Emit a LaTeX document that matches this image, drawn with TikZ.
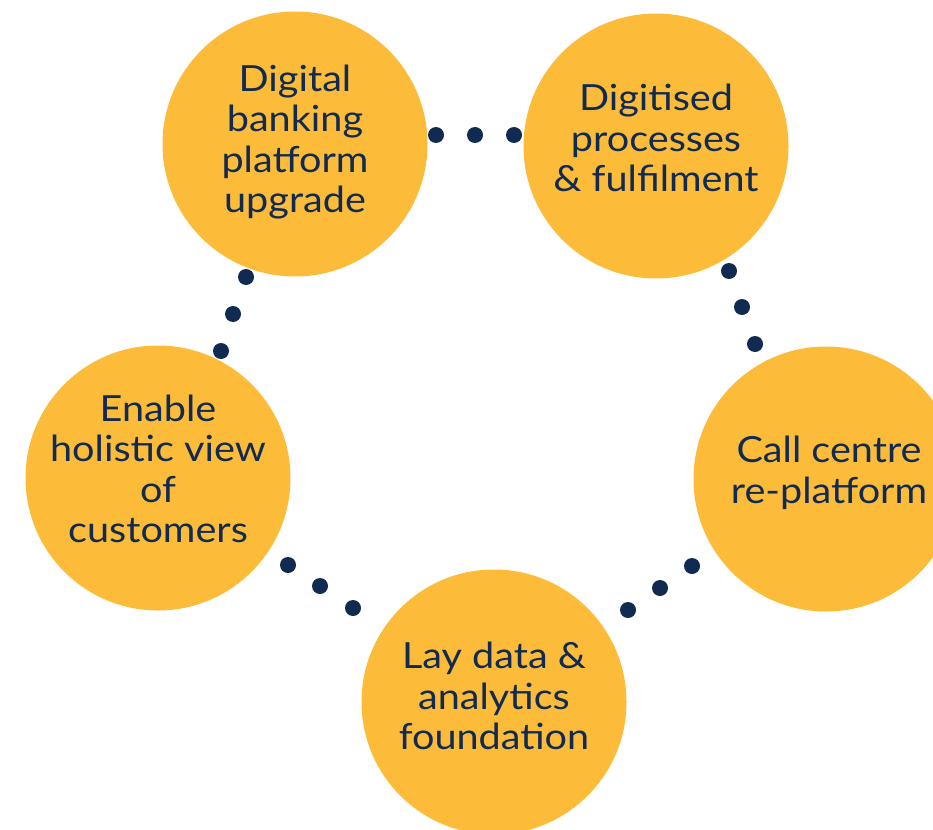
\documentclass[tikz,border=0pt]{standalone}
\usepackage{fontspec}
\setmainfont{Lato}[FakeStretch=1.1]
\definecolor{circfill}{HTML}{FCBC3A}
\definecolor{navy}{HTML}{112A52}
\begin{document}
\begin{tikzpicture}[x=1pt,y=-1pt,
  bubble/.style={circle,fill=circfill,minimum size=265pt,inner sep=0pt},
  label text/.style={text=navy,align=center,inner sep=0pt,font=\fontsize{36}{40.5}\selectfont},
  dot/.style={circle,fill=navy,minimum size=16pt,inner sep=0pt}]
\useasboundingbox (0,0) rectangle (933,829);
\clip (0,0) rectangle (933,829);
\node[bubble] (dig) at (295,144) {};
\node[bubble] (proc) at (656,146) {};
\node[bubble] (call) at (826,479) {};
\node[bubble] (data) at (494,702) {};
\node[bubble] (cust) at (158,478) {};
\node[label text] (tdig) at ([yshift=2pt]dig.center) {Digital\\banking\\platform\\upgrade};
\node[label text] (tproc) at ([yshift=8pt]proc.center) {Digitised\\processes\\\& fulfilment};
\node[label text] (tcall) at ([xshift=3pt,yshift=6pt]call.center) {Call centre\\re-platform};
\node[label text] (tdata) at ([yshift=6pt]data.center) {Lay data \&\\analytics\\foundation};
\node[label text] (tcust) at ([yshift=9pt]cust.center) {Enable\\holistic view\\of\\customers};
\node[dot] (a1) at (436,135) {};
\node[dot] (a2) at (475,135) {};
\node[dot] (a3) at (514,135) {};
\node[dot] (b1) at (729,271) {};
\node[dot] (b2) at (742,307) {};
\node[dot] (b3) at (755,344) {};
\node[dot] (c1) at (692,566) {};
\node[dot] (c2) at (660,588) {};
\node[dot] (c3) at (628,610) {};
\node[dot] (e1) at (288,565) {};
\node[dot] (e2) at (320,586) {};
\node[dot] (e3) at (353,608) {};
\node[dot] (f1) at (246,277) {};
\node[dot] (f2) at (233,314) {};
\node[dot] (f3) at (221,351) {};
\end{tikzpicture}
\end{document}
